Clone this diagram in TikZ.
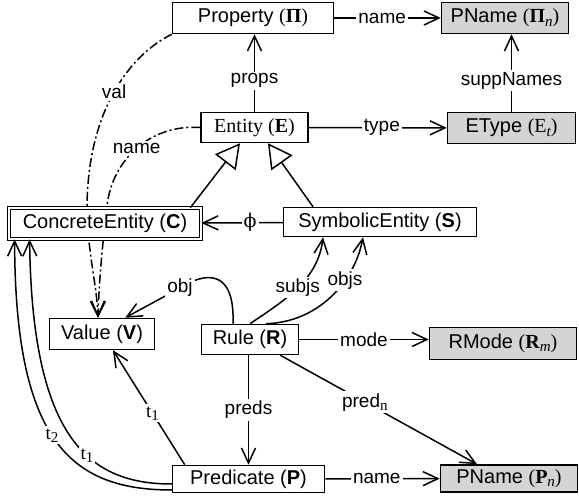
\documentclass[tikz,border=0pt]{standalone}
\usepackage{fontspec}
\setmainfont{Liberation Sans}
\newfontfamily\serif{Liberation Serif}
\newfontfamily\dvserif{DejaVu Serif}
\usetikzlibrary{arrows.meta,backgrounds,calc}
\newcommand\ssub[1]{\raisebox{-0.35ex}{\fontsize{15}{15}\selectfont\itshape #1}}
\newcommand\rsub[1]{\raisebox{-0.35ex}{\serif\fontsize{15}{15}\selectfont #1}}
\tikzset{
 box/.style={draw, fill=white, line width=1.5pt, font=\fontsize{20}{24}\selectfont, inner sep=0pt, align=center},
 gbox/.style={box, fill=black!17},
 lbl/.style={fill=white, inner sep=2pt, font=\fontsize{19}{22}\selectfont},
 conn/.style={line width=1.5pt},
 arr/.style={conn, -{Straight Barb[length=15pt,width=14pt]}},
 inh/.style={conn, -{Triangle[length=24pt,width=26pt,fill=white]}},
 dd/.style={arr, dash pattern=on 9pt off 3pt on 2pt off 3pt},
}
\begin{document}
\begin{tikzpicture}[x=1pt,y=-1pt]
\useasboundingbox (0,0) rectangle (579,502);
\node[box, minimum width=161pt, minimum height=31pt] (prop) at (253,18) {Property {\serif(\textbf{Π})}};
\node[gbox, minimum width=127pt, minimum height=31pt] (pnpi) at (505,18) {PName {\serif(\textbf{Π}\ssub{n})}};
\node[box, minimum width=107pt, minimum height=30pt] (ent) at (254.5,127.5) {\serif Entity (\textbf{E})};
\node[gbox, minimum width=128pt, minimum height=31pt] (ety) at (511.5,128) {EType {\serif(E\ssub{t})}};
\node[box, double, double distance=1.8pt, line width=0.8pt, minimum width=192pt, minimum height=31pt] (con) at (105,223.5) {ConcreteEntity (\textbf{C})};
\node[box, minimum width=193pt, minimum height=29pt] (sym) at (380,222) {SymbolicEntity (\textbf{S})};
\node[box, minimum width=105pt, minimum height=31pt] (val) at (102,334) {Value (\textbf{V})};
\node[box, minimum width=97pt, minimum height=30pt] (rule) at (250,339.5) {Rule (\textbf{R})};
\node[gbox, minimum width=147pt, minimum height=32pt] (rmo) at (503,343.5) {RMode {\serif(\textbf{R}\ssub{m})}};
\node[box, minimum width=152pt, minimum height=27pt] (pred) at (248.5,479) {Predicate (\textbf{P})};
\node[gbox, minimum width=137pt, minimum height=27pt] (pnp) at (509,478.5) {PName {\serif(\textbf{P}\ssub{n})}};

\begin{pgfonlayer}{background}
\draw[dd] (prop.south west) .. controls (130,55) and (88,110) .. node[lbl,pos=0.5]{val} (87,206) .. controls (87,250) and (97,285) .. ([xshift=-4pt]val.north);
\draw[dd] (ent.west) .. controls (150,124) and (112,160) .. node[lbl,pos=0.5]{name} (107,206) .. controls (103,240) and (99,280) .. ([xshift=-4pt]val.north);
\end{pgfonlayer}

\draw[arr] (prop) -- node[lbl,pos=0.45]{name} (pnpi);
\draw[arr] (ent.north) -- node[lbl,pos=0.4]{props} (ent.north |- prop.south);
\draw[arr] (ent) -- node[lbl,pos=0.53]{type} (ety);
\draw[arr] (ety.north) -- node[lbl,pos=0.4]{suppNames} (ety.north |- pnpi.south);
\draw[inh] ([xshift=-11pt]con.north east) -- ([xshift=-14.5pt]ent.south);
\draw[inh] ([xshift=-67pt]sym.north) -- ([xshift=13.5pt]ent.south);
\draw[arr] (sym) -- node[lbl,pos=0.4,font=\dvserif\fontsize{19}{22}\selectfont]{ϕ} (con);
\draw[arr] ([xshift=-17pt]rule.north) .. controls (235,268) and (205,272) .. (180,288) node[lbl]{obj} -- ([xshift=-30pt]val.north east);
\draw[arr] (rule.north) .. controls (285,300) and (318,280) .. node[lbl,pos=0.5]{subjs} ([xshift=-57pt]sym.south);
\draw[arr] ([xshift=16pt]rule.north) .. controls (320,322) and (355,280) .. node[lbl,pos=0.65]{objs} ([xshift=-17pt]sym.south);
\draw[arr] (rule.east) -- node[lbl]{mode} (rule.east -| rmo.west);
\draw[arr] (pred.north |- rule.south) -- node[lbl]{preds} (pred.north);
\draw[arr] ([xshift=-19pt]rule.south east) -- node[lbl,pos=0.43]{pred\rsub{n}} ([xshift=-32pt]pnp.north);
\draw[arr] ([xshift=13pt]pred.north west) -- node[lbl,pos=0.45]{\serif t\rsub{1}} ([xshift=11pt]val.south);
\draw[arr] ([yshift=-5pt]pred.west) .. controls (90,484) and (32,440) .. node[lbl,pos=0.4]{\serif t\rsub{1}} ([xshift=21pt]con.south west);
\draw[arr] ([yshift=-11pt]pred.west) .. controls (70,490) and (15,440) .. node[lbl,pos=0.52]{\serif t\rsub{2}} ([xshift=6pt]con.south west);
\draw[arr] (pred) -- node[lbl,pos=0.45]{name} (pnp);
\end{tikzpicture}
\end{document}
